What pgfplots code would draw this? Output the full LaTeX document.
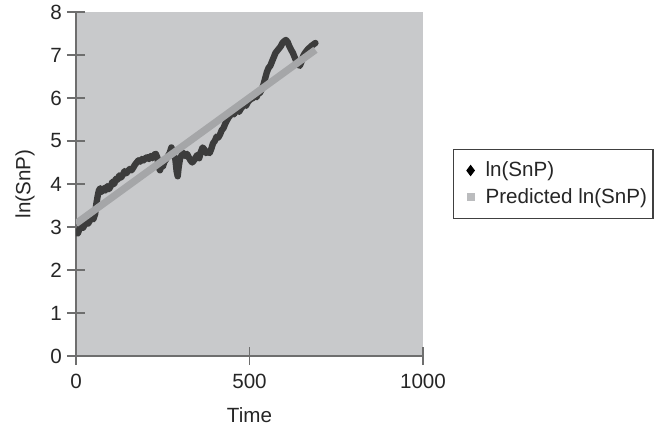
\documentclass[border=0pt]{standalone}
\usepackage{fontspec}
\setmainfont{Liberation Sans}
\usepackage{pgfplots}
\pgfplotsset{compat=1.18}

\definecolor{plotbg}{RGB}{200,201,203}
\definecolor{snp}{RGB}{60,60,60}
\definecolor{pred}{RGB}{165,166,168}
\definecolor{axisgray}{RGB}{110,110,110}

\pgfplotstableread{
t    y
0    2.87
5    2.85
10   2.95
15   3.00
20   2.98
25   3.05
30   3.10
35   3.08
40   3.15
45   3.20
50   3.18
55   3.30
58   3.50
62   3.70
66   3.85
70   3.90
75   3.82
80   3.90
85   3.85
90   3.95
95   3.88
100  3.95
105  4.05
110  4.00
115  4.12
120  4.10
125  4.20
130  4.15
135  4.22
140  4.30
145  4.25
150  4.30
155  4.35
160  4.32
165  4.38
170  4.45
175  4.50
180  4.55
185  4.52
190  4.58
195  4.55
200  4.60
205  4.62
210  4.58
215  4.65
220  4.60
225  4.68
230  4.70
235  4.60
238  4.40
242  4.32
246  4.45
250  4.40
255  4.52
260  4.58
265  4.65
270  4.72
275  4.85
278  4.78
282  4.65
286  4.60
290  4.30
293  4.18
296  4.40
300  4.60
305  4.68
310  4.72
315  4.65
320  4.70
325  4.62
330  4.55
335  4.50
340  4.55
345  4.62
350  4.68
355  4.60
360  4.75
365  4.85
370  4.80
375  4.72
380  4.75
385  4.72
390  4.82
395  4.95
400  5.00
405  5.10
410  5.08
415  5.15
420  5.25
425  5.30
430  5.40
435  5.48
440  5.55
445  5.60
450  5.65
455  5.62
460  5.70
465  5.72
470  5.68
475  5.75
480  5.80
485  5.85
490  5.82
495  5.90
500  5.95
505  5.98
510  6.00
515  6.05
520  6.02
525  6.10
530  6.12
535  6.20
540  6.30
545  6.45
550  6.60
555  6.70
560  6.75
565  6.85
570  6.95
575  7.05
580  7.10
585  7.15
590  7.20
595  7.28
600  7.32
605  7.35
610  7.30
615  7.20
620  7.12
625  7.05
630  6.95
635  6.85
640  6.78
645  6.75
650  6.85
655  6.98
660  7.05
665  7.10
670  7.15
675  7.18
680  7.22
685  7.25
690  7.28
}\snpdata

\pgfplotstableread{
t    y
0    3.08
690  7.12
}\preddata

\begin{document}
\fontsize{10.3bp}{12bp}\selectfont
\begin{tikzpicture}
\useasboundingbox (-38bp,-35.5bp) rectangle (290.5bp,178bp);
\begin{axis}[
  scale only axis,
  width=173.5bp, height=172bp,
  xmin=0, xmax=1000, ymin=0, ymax=8,
  xtick={0,500,1000}, ytick={0,1,...,8},
  axis x line*=bottom, axis y line*=left,
  axis line style={axisgray, line width=1bp, -},
  tick style={axisgray, line width=0.8bp},
  tick align=center, major tick length=9bp,
  axis background/.style={fill=plotbg},
  /pgf/number format/assume math mode=true,
  /pgf/number format/1000 sep={},
  ticklabel style={font=\fontsize{10.3bp}{12bp}\selectfont, text=black!85},
  xticklabel style={yshift=-1bp},
  yticklabel style={xshift=1bp},
  xlabel={Time}, ylabel={ln(SnP)},
  label style={font=\fontsize{10.3bp}{12bp}\selectfont, text=black!85},
  xlabel style={at={(axis description cs:0.5,-0.172)}, anchor=center},
  ylabel style={at={(axis description cs:-0.147,0.5)}, anchor=center},
  legend style={at={(1,0.5)}, anchor=west, xshift=15bp,
    draw=black!75, line width=0.6bp, fill=white,
    font=\fontsize{10.3bp}{12bp}\selectfont, text=black!85,
    inner xsep=1bp, inner ysep=4bp, row sep=0.5bp},
  legend cell align=left,
  legend image code/.code={%
    \path[draw=none, fill=none] (-2bp,0bp) (11bp,0bp);
    \draw[#1] plot coordinates {(5.5bp,0bp)};},
]
\addplot[snp, line width=3.2bp, line join=round, line cap=round, forget plot]
  table[x=t, y=y] {\snpdata};
\addplot[pred, line width=3.6bp, forget plot] table[x=t, y=y] {\preddata};

\addlegendimage{mark=diamond*, mark size=2.4bp, black}
\addlegendentry{ln(SnP)}
\addlegendimage{mark=square*, mark size=1.7bp, pred!75!white, draw=pred!75!white}
\addlegendentry{Predicted ln(SnP)}
\end{axis}
\end{tikzpicture}
\end{document}
